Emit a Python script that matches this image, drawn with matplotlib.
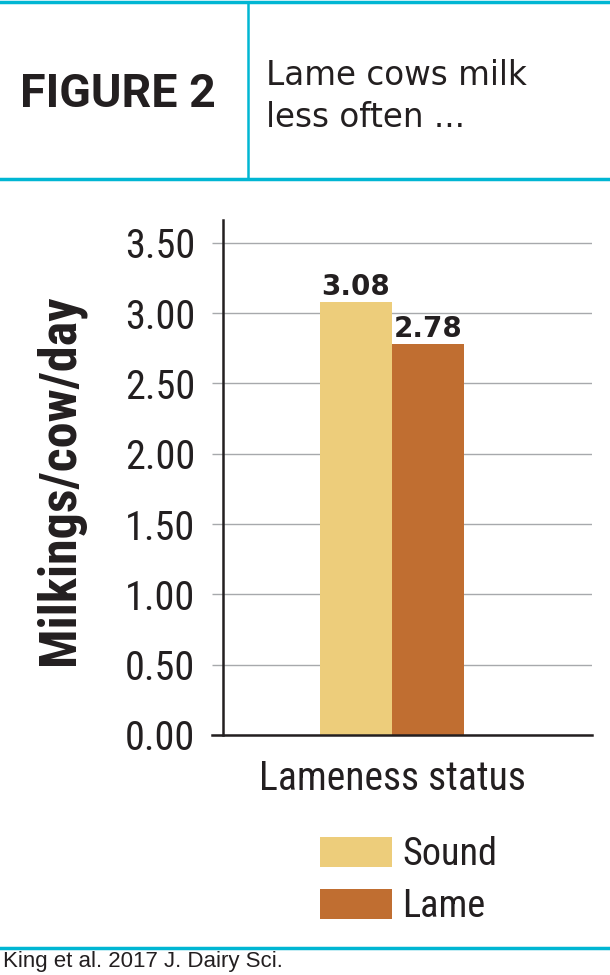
import matplotlib
matplotlib.use("Agg")
import matplotlib.pyplot as plt
from matplotlib.patches import Patch
from matplotlib.lines import Line2D

# data
categories = ["Sound", "Lame"]
values = [3.08, 2.78]
colors = ["#EDCD7B", "#C06E31"]
yticks = [0.0, 0.5, 1.0, 1.5, 2.0, 2.5, 3.0, 3.5]

CYAN = "#00B6D3"
DARK = "#231F20"
NARROW = ["Roboto Condensed", "Liberation Sans Narrow", "DejaVu Sans"]

W, H = 610, 975
fig = plt.figure(figsize=(W / 100, H / 100), dpi=100)

def fx(px):
    return px / W

def fy(py):
    return 1 - py / H

# header frame
fig.add_artist(Line2D([0, 1], [fy(2), fy(2)], color=CYAN, lw=2.5))
fig.add_artist(Line2D([0, 1], [fy(179), fy(179)], color=CYAN, lw=2.5))
fig.add_artist(Line2D([fx(248), fx(248)], [fy(2), fy(179)], color=CYAN, lw=1.8))
fig.add_artist(Line2D([0, 1], [fy(948), fy(948)], color=CYAN, lw=2.5))

fig.text(fx(118), fy(107), "FIGURE 2", ha="center", va="baseline",
         fontsize=33.5, fontweight="bold", family=["Roboto", "DejaVu Sans"],
         color=DARK)
fig.text(fx(266), fy(85), "Lame cows milk", ha="left", va="baseline",
         fontsize=23.5, family=["DejaVu Sans"], color=DARK)
fig.text(fx(266), fy(127), "less often ...", ha="left", va="baseline",
         fontsize=23.5, family=["DejaVu Sans"], color=DARK)
fig.text(fx(3), fy(967), "King et al. 2017 J. Dairy Sci.", ha="left", va="baseline",
         fontsize=16, family=["Liberation Sans", "DejaVu Sans"], color=DARK)

# axes
left, right, bottom, top = 223, 592, 735, 220
ax = fig.add_axes([fx(left), fy(bottom), fx(right - left), (bottom - top) / H])
ymax = (bottom - top) / ((bottom - 242.7) / 3.5)
ax.set_ylim(0, ymax)
bw = 72 / (right - left)
ax.set_xlim(0, 1)
xc = (392 - left) / (right - left)
xs = [xc - bw / 2, xc + bw / 2]
bars = ax.bar(xs, values, width=bw, color=colors, zorder=3)
for b, v in zip(bars, values):
    ax.annotate(f"{v:.2f}", (b.get_x() + b.get_width() / 2, v),
                xytext=(0, 0.5), textcoords="offset points", ha="center",
                va="bottom", fontsize=20, fontweight="bold",
                family=["DejaVu Sans"], color=DARK)

ax.set_yticks(yticks)
ax.set_yticklabels([f"{t:.2f}" for t in yticks], family=NARROW, fontsize=29,
                   color=DARK)
ax.set_xticks([])
ax.tick_params(axis="y", length=8, color="#A7A9AC", width=1, pad=12)
ax.yaxis.grid(True, color="#A7A9AC", lw=1, zorder=0)
for s in ["top", "right", "bottom"]:
    ax.spines[s].set_visible(False)
ax.spines["left"].set_color(DARK)
ax.spines["left"].set_linewidth(1.8)
ax.axhline(0, xmin=-(left - 212) / (right - left), xmax=1, color=DARK, lw=1.8,
           clip_on=False, zorder=4)

fig.text(fx(60), fy(480), "Milkings/cow/day", rotation=90, ha="center",
         va="center", family=NARROW, fontsize=37.5, fontweight="bold", color=DARK)

fig.text(fx(392), fy(790), "Lameness status", ha="center", va="baseline",
         fontsize=28.5, family=NARROW, color=DARK)

handles = [Patch(facecolor=c, edgecolor="none") for c in colors]
leg = fig.legend(handles, categories, loc="upper left",
                 bbox_to_anchor=(fx(320), fy(836)), frameon=False,
                 borderpad=0, borderaxespad=0,
                 handlelength=1.885, handleheight=0.84, handletextpad=0.26,
                 labelspacing=0.40, prop={"family": NARROW, "size": 27.5})
for t in leg.get_texts():
    t.set_color(DARK)

fig.savefig("out.png", dpi=100)
